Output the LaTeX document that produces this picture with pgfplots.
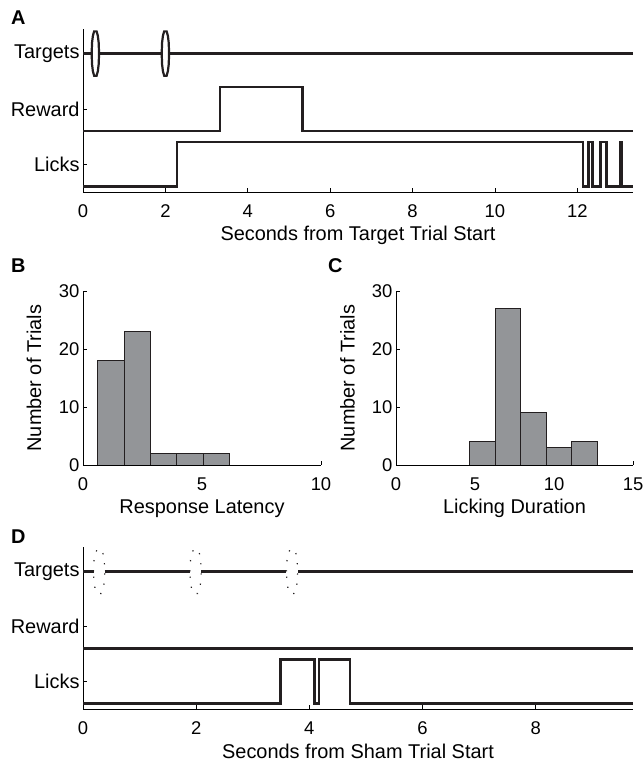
\documentclass[border=0pt]{standalone}
\usepackage{fontspec}
\setmainfont{Liberation Sans}
\usepackage{pgfplots}
\pgfplotsset{compat=1.18}
\definecolor{sig}{HTML}{231F20}
\definecolor{barfill}{RGB}{147,149,152}
\pgfplotsset{
  myax/.style={
    scale only axis,
    axis x line=bottom, axis y line=left,
    axis line style={-, line width=0.8bp, black},
    tick align=inside,
    major tick length=4bp,
    tick style={line width=0.8bp, black},
    tick label style={font=\fontsize{18.5}{22}\selectfont},
    yticklabel style={font=\fontsize{20}{24}\selectfont},
    xticklabel style={anchor=base, yshift=-25.5bp},
    label style={font=\fontsize{20}{24}\selectfont},
    xlabel style={at={(axis description cs:0.5,0)}, anchor=base, yshift=-49bp},
    /pgf/number format/assume math mode=true,
  },
  sigl/.style={sig, line width=2.4bp, line join=miter, mark=none},
}
\begin{document}
\begin{tikzpicture}
\useasboundingbox (0,0) rectangle (644bp,765bp);
% ---------------- Panel A
\begin{axis}[myax, at={(83bp,573bp)}, anchor=south west, width=550bp, height=163.4bp,
  xmin=0, xmax=13.35, ymin=0.5, ymax=3.45,
  xtick={0,2,...,12}, ytick={1,2,3}, yticklabels={Licks,Reward,Targets},
  xlabel={Seconds from Target Trial Start}]
\addplot[sigl] coordinates {(0,3)(0.21,3)};
\addplot[sigl] coordinates {(0.39,3)(1.91,3)};
\addplot[sigl] coordinates {(2.09,3)(13.35,3)};
\addplot[sig, line width=2.2bp] coordinates {(0.21,3)(0.22,3.2)(0.24,3.32)(0.27,3.4)(0.33,3.4)(0.36,3.32)(0.38,3.2)(0.39,3)(0.38,2.8)(0.36,2.68)(0.33,2.6)(0.27,2.6)(0.24,2.68)(0.22,2.8)} -- cycle;
\addplot[sig, line width=2.2bp] coordinates {(1.91,3)(1.92,3.2)(1.94,3.32)(1.97,3.4)(2.03,3.4)(2.06,3.32)(2.08,3.2)(2.09,3)(2.08,2.8)(2.06,2.68)(2.03,2.6)(1.97,2.6)(1.94,2.68)(1.92,2.8)} -- cycle;
\addplot[sigl] coordinates {(0,1.6)(3.33,1.6)(3.33,2.4)(5.33,2.4)(5.33,1.6)(13.35,1.6)};
\addplot[sigl] coordinates {(0,0.6)(2.28,0.6)(2.28,1.4)(12.13,1.4)(12.13,0.6)(12.27,0.6)(12.27,1.4)(12.37,1.4)(12.37,0.6)(12.56,0.6)(12.56,1.4)(12.71,1.4)(12.71,0.6)(13.04,0.6)(13.04,1.4)(13.09,1.4)(13.09,0.6)(13.35,0.6)};
\end{axis}
% ---------------- Panel B
\begin{axis}[myax, at={(83bp,300bp)}, anchor=south west, width=238bp, height=173.7bp,
  xmin=0, xmax=10, ymin=0, ymax=30,
  xtick={0,5,10}, ytick={0,10,20,30},
  yticklabel style={font=\fontsize{18.5}{22}\selectfont},
  ylabel style={at={(axis description cs:-0.176,0.5)}, anchor=base},
  xlabel={Response Latency}, ylabel={Number of Trials}]
\addplot[ybar interval, fill=barfill, draw=sig, line width=0.8bp] coordinates {(0.62,18)(1.725,23)(2.83,2)(3.935,2)(5.04,2)(6.145,2)};
\end{axis}
% ---------------- Panel C
\begin{axis}[myax, at={(396bp,300bp)}, anchor=south west, width=237bp, height=173.7bp,
  xmin=0, xmax=15, ymin=0, ymax=30,
  xtick={0,5,10,15}, ytick={0,10,20,30},
  yticklabel style={font=\fontsize{18.5}{22}\selectfont},
  ylabel style={at={(axis description cs:-0.175,0.5)}, anchor=base},
  xlabel={Licking Duration}, ylabel={Number of Trials}]
\addplot[ybar interval, fill=barfill, draw=sig, line width=0.8bp] coordinates {(4.66,4)(6.27,27)(7.89,9)(9.50,3)(11.12,4)(12.73,4)};
\end{axis}
% ---------------- Panel D
\begin{axis}[myax, at={(83bp,56bp)}, anchor=south west, width=550bp, height=162.3bp,
  xmin=0, xmax=9.72, ymin=0.5, ymax=3.45,
  xtick={0,2,...,8}, ytick={1,2,3}, yticklabels={Licks,Reward,Targets},
  xlabel={Seconds from Sham Trial Start}]
\addplot[sigl] coordinates {(0,3)(0.19,3)};
\addplot[sigl] coordinates {(0.38,3)(1.89,3)};
\addplot[sigl] coordinates {(2.09,3)(3.59,3)};
\addplot[sigl] coordinates {(3.80,3)(9.72,3)};
\addplot[sig, line width=1.2bp, dash pattern=on 1.2bp off 9bp] coordinates {(0.185,3)(0.195,3.2)(0.215,3.32)(0.25,3.4)(0.32,3.4)(0.355,3.32)(0.375,3.2)(0.385,3)(0.375,2.8)(0.355,2.68)(0.32,2.6)(0.25,2.6)(0.215,2.68)(0.195,2.8)} -- cycle;
\addplot[sig, line width=1.2bp, dash pattern=on 1.2bp off 9bp] coordinates {(1.89,3)(1.90,3.2)(1.92,3.32)(1.955,3.4)(2.025,3.4)(2.06,3.32)(2.08,3.2)(2.09,3)(2.08,2.8)(2.06,2.68)(2.025,2.6)(1.955,2.6)(1.92,2.68)(1.90,2.8)} -- cycle;
\addplot[sig, line width=1.2bp, dash pattern=on 1.2bp off 9bp] coordinates {(3.595,3)(3.605,3.2)(3.625,3.32)(3.66,3.4)(3.73,3.4)(3.765,3.32)(3.785,3.2)(3.795,3)(3.785,2.8)(3.765,2.68)(3.73,2.6)(3.66,2.6)(3.625,2.68)(3.605,2.8)} -- cycle;
\addplot[sigl] coordinates {(0,1.6)(9.72,1.6)};
\addplot[sigl] coordinates {(0,0.6)(3.49,0.6)(3.49,1.4)(4.09,1.4)(4.09,0.6)(4.17,0.6)(4.17,1.4)(4.72,1.4)(4.72,0.6)(9.72,0.6)};
\end{axis}
% ---------------- Panel labels
\node[anchor=base west, inner sep=0, font=\bfseries\fontsize{20}{24}\selectfont] at (11bp,740bp) {A};
\node[anchor=base west, inner sep=0, font=\bfseries\fontsize{20}{24}\selectfont] at (11bp,492bp) {B};
\node[anchor=base west, inner sep=0, font=\bfseries\fontsize{20}{24}\selectfont] at (328bp,492bp) {C};
\node[anchor=base west, inner sep=0, font=\bfseries\fontsize{20}{24}\selectfont] at (11bp,221bp) {D};
\end{tikzpicture}
\end{document}
